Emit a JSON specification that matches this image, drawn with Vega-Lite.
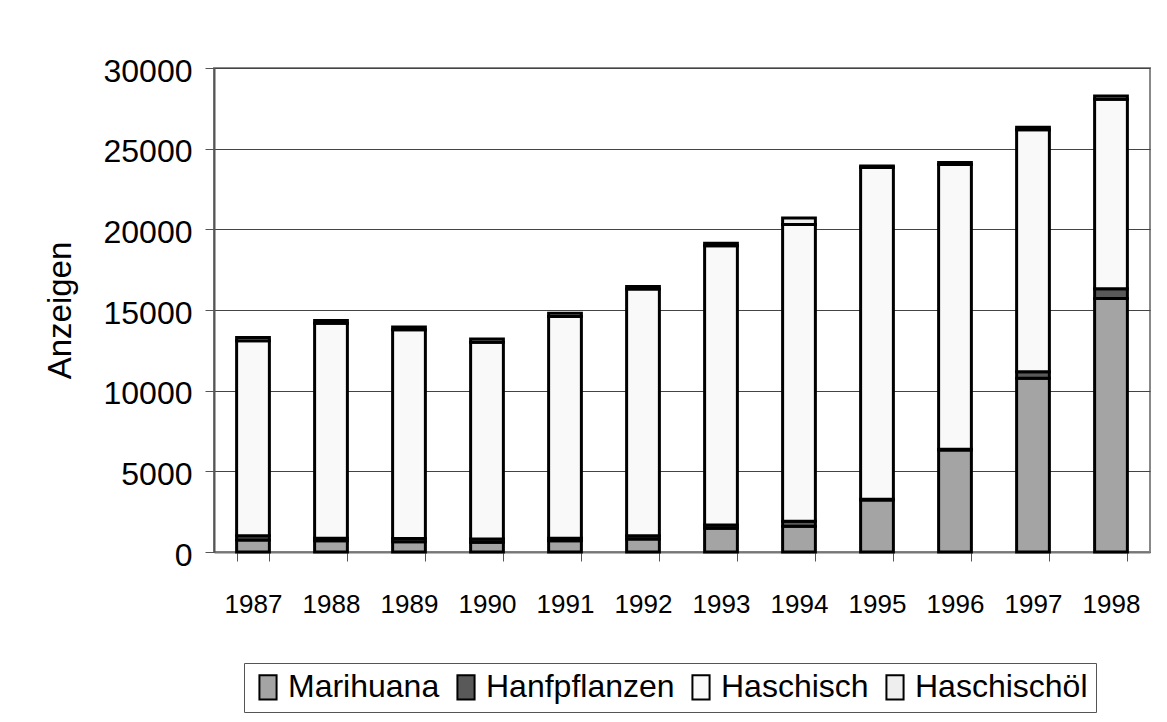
{
  "$schema": "https://vega.github.io/schema/vega-lite/v6.json",
  "width": 936,
  "height": 484,
  "autosize": {"type": "none"},
  "padding": {"left": 214, "top": 68, "right": 17, "bottom": 170},
  "background": "#ffffff",
  "config": {
    "font": "Liberation Sans",
    "view": {"stroke": "#888888", "strokeWidth": 2},
    "axis": {"labelColor": "#000000", "titleColor": "#000000"}
  },
  "data": {
    "values": [
      {"Jahr": "1987", "Art": "Marihuana", "ord": 1, "Anzeigen": 750},
      {"Jahr": "1987", "Art": "Hanfpflanzen", "ord": 2, "Anzeigen": 250},
      {"Jahr": "1987", "Art": "Haschisch", "ord": 3, "Anzeigen": 12100},
      {"Jahr": "1987", "Art": "Haschischöl", "ord": 4, "Anzeigen": 200},
      {"Jahr": "1988", "Art": "Marihuana", "ord": 1, "Anzeigen": 700},
      {"Jahr": "1988", "Art": "Hanfpflanzen", "ord": 2, "Anzeigen": 150},
      {"Jahr": "1988", "Art": "Haschisch", "ord": 3, "Anzeigen": 13330},
      {"Jahr": "1988", "Art": "Haschischöl", "ord": 4, "Anzeigen": 170},
      {"Jahr": "1989", "Art": "Marihuana", "ord": 1, "Anzeigen": 640},
      {"Jahr": "1989", "Art": "Hanfpflanzen", "ord": 2, "Anzeigen": 200},
      {"Jahr": "1989", "Art": "Haschisch", "ord": 3, "Anzeigen": 12930},
      {"Jahr": "1989", "Art": "Haschischöl", "ord": 4, "Anzeigen": 180},
      {"Jahr": "1990", "Art": "Marihuana", "ord": 1, "Anzeigen": 600},
      {"Jahr": "1990", "Art": "Hanfpflanzen", "ord": 2, "Anzeigen": 200},
      {"Jahr": "1990", "Art": "Haschisch", "ord": 3, "Anzeigen": 12200},
      {"Jahr": "1990", "Art": "Haschischöl", "ord": 4, "Anzeigen": 200},
      {"Jahr": "1991", "Art": "Marihuana", "ord": 1, "Anzeigen": 700},
      {"Jahr": "1991", "Art": "Hanfpflanzen", "ord": 2, "Anzeigen": 150},
      {"Jahr": "1991", "Art": "Haschisch", "ord": 3, "Anzeigen": 13750},
      {"Jahr": "1991", "Art": "Haschischöl", "ord": 4, "Anzeigen": 200},
      {"Jahr": "1992", "Art": "Marihuana", "ord": 1, "Anzeigen": 800},
      {"Jahr": "1992", "Art": "Hanfpflanzen", "ord": 2, "Anzeigen": 200},
      {"Jahr": "1992", "Art": "Haschisch", "ord": 3, "Anzeigen": 15300},
      {"Jahr": "1992", "Art": "Haschischöl", "ord": 4, "Anzeigen": 150},
      {"Jahr": "1993", "Art": "Marihuana", "ord": 1, "Anzeigen": 1470},
      {"Jahr": "1993", "Art": "Hanfpflanzen", "ord": 2, "Anzeigen": 200},
      {"Jahr": "1993", "Art": "Haschisch", "ord": 3, "Anzeigen": 17310},
      {"Jahr": "1993", "Art": "Haschischöl", "ord": 4, "Anzeigen": 150},
      {"Jahr": "1994", "Art": "Marihuana", "ord": 1, "Anzeigen": 1600},
      {"Jahr": "1994", "Art": "Hanfpflanzen", "ord": 2, "Anzeigen": 300},
      {"Jahr": "1994", "Art": "Haschisch", "ord": 3, "Anzeigen": 18400},
      {"Jahr": "1994", "Art": "Haschischöl", "ord": 4, "Anzeigen": 400},
      {"Jahr": "1995", "Art": "Marihuana", "ord": 1, "Anzeigen": 3220},
      {"Jahr": "1995", "Art": "Hanfpflanzen", "ord": 2, "Anzeigen": 50},
      {"Jahr": "1995", "Art": "Haschisch", "ord": 3, "Anzeigen": 20560},
      {"Jahr": "1995", "Art": "Haschischöl", "ord": 4, "Anzeigen": 100},
      {"Jahr": "1996", "Art": "Marihuana", "ord": 1, "Anzeigen": 6320},
      {"Jahr": "1996", "Art": "Hanfpflanzen", "ord": 2, "Anzeigen": 50},
      {"Jahr": "1996", "Art": "Haschisch", "ord": 3, "Anzeigen": 17650},
      {"Jahr": "1996", "Art": "Haschischöl", "ord": 4, "Anzeigen": 130},
      {"Jahr": "1997", "Art": "Marihuana", "ord": 1, "Anzeigen": 10770},
      {"Jahr": "1997", "Art": "Hanfpflanzen", "ord": 2, "Anzeigen": 400},
      {"Jahr": "1997", "Art": "Haschisch", "ord": 3, "Anzeigen": 15000},
      {"Jahr": "1997", "Art": "Haschischöl", "ord": 4, "Anzeigen": 150},
      {"Jahr": "1998", "Art": "Marihuana", "ord": 1, "Anzeigen": 15720},
      {"Jahr": "1998", "Art": "Hanfpflanzen", "ord": 2, "Anzeigen": 600},
      {"Jahr": "1998", "Art": "Haschisch", "ord": 3, "Anzeigen": 11750},
      {"Jahr": "1998", "Art": "Haschischöl", "ord": 4, "Anzeigen": 200}
    ]
  },
  "mark": {"type": "bar", "stroke": "#000000", "strokeWidth": 3},
  "encoding": {
    "x": {
      "field": "Jahr",
      "type": "ordinal",
      "scale": {"paddingInner": 0.58, "paddingOuter": 0.29},
      "axis": {
        "title": null,
        "labelAngle": 0,
        "labelFontSize": 26,
        "labelPadding": 30,
        "tickBand": "extent",
        "tickSize": 9,
        "tickColor": "#555555",
        "domainColor": "#777777",
        "domainWidth": 2,
        "grid": false
      }
    },
    "y": {
      "field": "Anzeigen",
      "type": "quantitative",
      "stack": "zero",
      "scale": {"domain": [0, 30000], "nice": false},
      "axis": {
        "title": "Anzeigen",
        "titleFontSize": 33,
        "titleFontWeight": "normal",
        "titlePadding": 26,
        "values": [0, 5000, 10000, 15000, 20000, 25000, 30000],
        "format": "d",
        "labelFontSize": 32,
        "labelPadding": 13,
        "labelOffset": 3,
        "tickSize": 9,
        "tickColor": "#555555",
        "domainColor": "#555555",
        "domainWidth": 2,
        "grid": true,
        "gridColor": "#444444",
        "gridWidth": 1
      }
    },
    "color": {
      "field": "Art",
      "type": "nominal",
      "sort": ["Marihuana", "Hanfpflanzen", "Haschisch", "Haschischöl"],
      "scale": {
        "domain": ["Marihuana", "Hanfpflanzen", "Haschisch", "Haschischöl"],
        "range": ["#a4a4a4", "#595959", "#f9f9f9", "#eeeeee"]
      },
      "legend": {
        "title": null,
        "orient": "none",
        "direction": "horizontal",
        "columns": 4,
        "legendX": 30,
        "legendY": 595,
        "padding": 8,
        "strokeColor": "#555555",
        "fillColor": "#ffffff",
        "labelFontSize": 32,
        "labelLimit": 0,
        "labelColor": "#000000",
        "labelOffset": 4,
        "columnPadding": 10,
        "symbolType": "M-0.7,-1H0.7V1H-0.7Z",
        "symbolSize": 600,
        "symbolStrokeColor": "#000000",
        "symbolStrokeWidth": 2,
        "symbolOpacity": 1
      }
    },
    "order": {"field": "ord", "type": "quantitative"}
  }
}
